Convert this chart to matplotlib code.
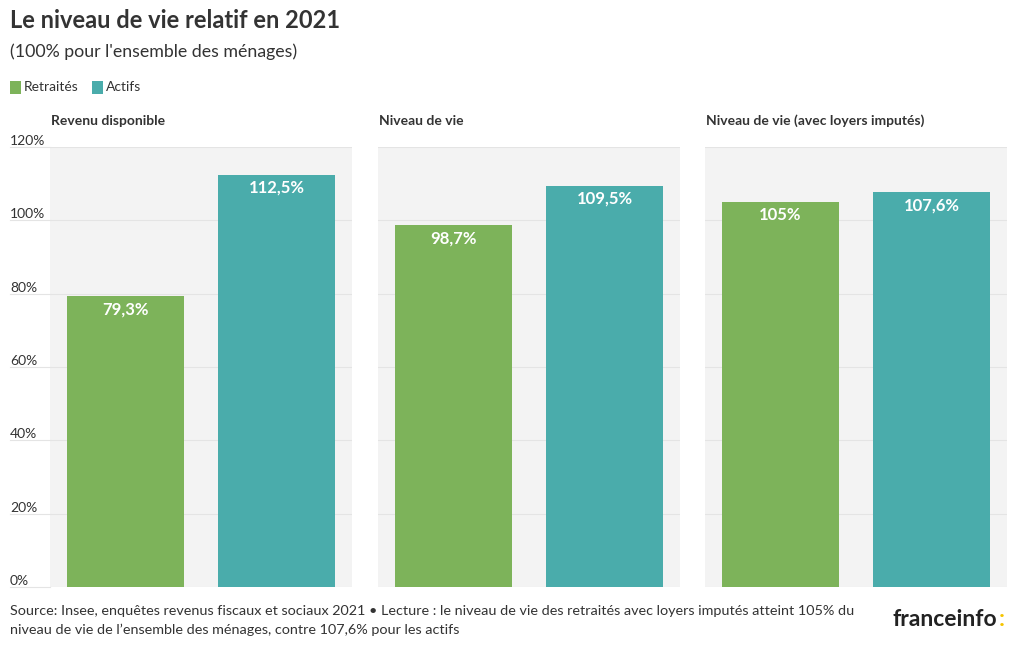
import matplotlib
matplotlib.use("Agg")
import matplotlib.pyplot as plt
from matplotlib.patches import Rectangle
from matplotlib.transforms import blended_transform_factory

panels = ["Revenu disponible", "Niveau de vie", "Niveau de vie (avec loyers imputés)"]
series = ["Retraités", "Actifs"]
retraites = [79.3, 98.7, 105.0]
actifs = [112.5, 109.5, 107.6]
labels_retraites = ["79,3%", "98,7%", "105%"]
labels_actifs = ["112,5%", "109,5%", "107,6%"]
yticks = [0, 20, 40, 60, 80, 100, 120]

GREEN = "#7db35a"
TEAL = "#4aacab"
TEXT = "#333333"
FONT = "Lato"

W, H = 1020, 650
fig = plt.figure(figsize=(W / 100, H / 100), dpi=100)
fig.patch.set_facecolor("white")
plt.rcParams["font.family"] = [FONT, "DejaVu Sans"]

def fx(px):
    return px / W

def fy(py):
    return 1 - py / H

# titles
fig.text(fx(10), fy(20), "Le niveau de vie relatif en 2021", fontsize=17, fontweight="bold",
         color=TEXT, va="center", ha="left")
fig.text(fx(10), fy(52), "(100% pour l'ensemble des ménages)", fontsize=12.8, color=TEXT,
         va="center", ha="left")

# legend
lx = 10
for name, col in zip(series, [GREEN, TEAL]):
    fig.patches.append(Rectangle((fx(lx), fy(94)), fx(11), 13 / H, transform=fig.transFigure,
                                 facecolor=col, edgecolor="none"))
    fig.text(fx(lx + 14), fy(87), name, fontsize=10, color=TEXT, va="center", ha="left")
    lx += 14 + len(name) * 6.9 + 6

panel_left = [50, 378, 705]
pw, top, bottom = 302, 147, 587

for i, (title, left) in enumerate(zip(panels, panel_left)):
    ax = fig.add_axes([fx(left), fy(bottom), fx(pw), (bottom - top) / H])
    ax.set_facecolor("#f3f3f3")
    vals = [retraites[i], actifs[i]]
    labs = [labels_retraites[i], labels_actifs[i]]
    bars = ax.bar([0, 1], vals, width=0.775, color=[GREEN, TEAL], zorder=3)
    for b, v, lab in zip(bars, vals, labs):
        ax.annotate(lab, (b.get_x() + b.get_width() / 2, v), xytext=(0, -9.5),
                    textcoords="offset points", ha="center", va="center",
                    color="white", fontsize=12, fontweight="bold", zorder=4)
    ax.set_xlim(-0.5, 1.5)
    ax.set_ylim(0, 120)
    ax.set_yticks(yticks)
    ax.set_yticklabels([])
    ax.grid(axis="y", color="#e4e4e4", linewidth=0.8, zorder=1)
    ax.set_xticks([])
    ax.tick_params(axis="y", length=0)
    for s in ax.spines.values():
        s.set_visible(False)
    if i == 0:
        trans = blended_transform_factory(fig.transFigure, ax.transData)
        for t in yticks:
            ax.text(fx(10), t, f"{t}%", transform=trans, ha="left", va="bottom",
                    fontsize=10, color=TEXT, clip_on=False)
            ax.plot([fx(10), fx(50)], [t, t], transform=trans, color="#e4e4e4",
                    linewidth=0.8, clip_on=False)
    fig.text(fx(left + 1), fy(121), title, fontsize=10, fontweight="bold", color=TEXT,
             va="center", ha="left")

# source
fig.text(fx(10), fy(611), "Source: Insee, enquêtes revenus fiscaux et sociaux 2021 • Lecture : le niveau de vie "
         "des retraités avec loyers imputés atteint 105% du", fontsize=10.4, color=TEXT,
         va="center", ha="left")
fig.text(fx(10), fy(630), "niveau de vie de l’ensemble des ménages, contre 107,6% pour les actifs",
         fontsize=10.4, color=TEXT, va="center", ha="left")

# logo
t1 = fig.text(fx(893), fy(620), "franceinfo", fontsize=16.5, fontweight="bold", color="#222222",
              va="center", ha="left")
fig.canvas.draw()
bb = t1.get_window_extent()
fig.text(bb.x1 / W + 0.001, fy(620), ":", fontsize=16.5, fontweight="bold", color="#f5c400",
         va="center", ha="left")

fig.savefig("out.png", dpi=100, facecolor="white")
